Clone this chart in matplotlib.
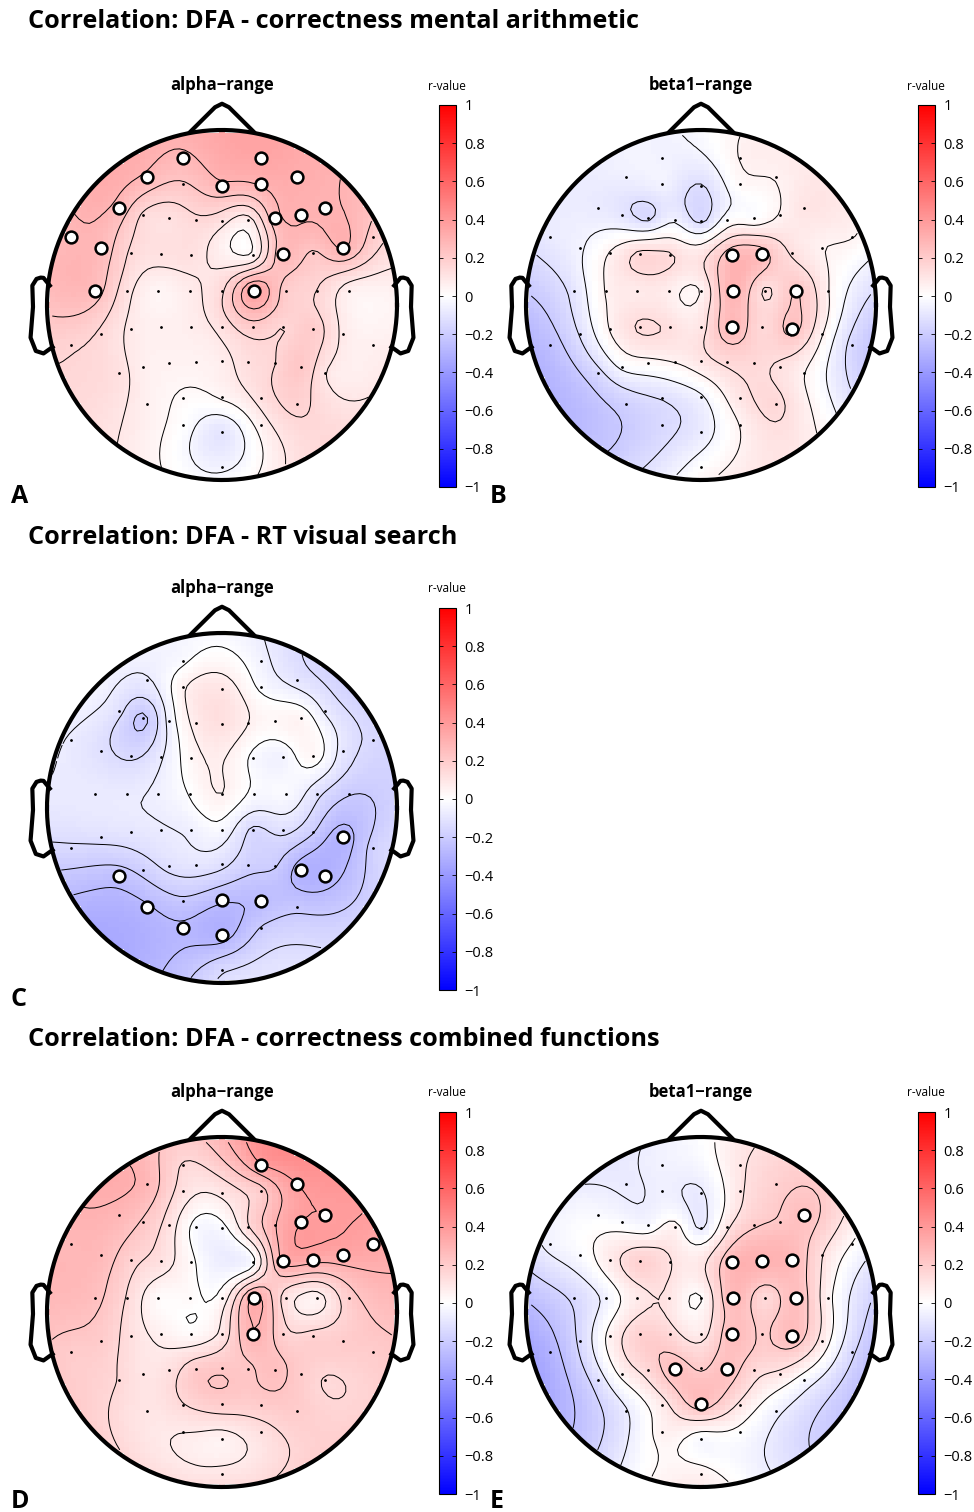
import numpy as np
import matplotlib.pyplot as plt
from matplotlib.patches import Circle
from matplotlib.colors import Normalize
from matplotlib.cm import ScalarMappable

plt.rcParams['font.family'] = ['Open Sans', 'DejaVu Sans']

# channel layout (head radius = 1)
channels = ['Fp1', 'Fp2', 'AF7', 'AF3', 'AFz', 'AF4', 'AF8',
            'F7', 'F5', 'F3', 'F1', 'Fz', 'F2', 'F4', 'F6', 'F8',
            'FT9', 'FT7', 'FC5', 'FC3', 'FC1', 'FC2', 'FC4', 'FC6', 'FT8', 'FT10',
            'T7', 'C5', 'C3', 'C1', 'Cz', 'C2', 'C4', 'C6', 'T8',
            'TP9', 'TP7', 'CP5', 'CP3', 'CP1', 'CPz', 'CP2', 'CP4', 'CP6', 'TP8', 'TP10',
            'P7', 'P5', 'P3', 'P1', 'Pz', 'P2', 'P4', 'P6', 'P8',
            'PO7', 'PO3', 'POz', 'PO4', 'PO8',
            'O1', 'Oz', 'O2', 'Iz']
chan_x = [-0.225, 0.225, -0.427, -0.221, 0.0, 0.221, 0.427,
          -0.587, -0.449, -0.303, -0.151, 0.0, 0.151, 0.303, 0.449, 0.587,
          -0.863, -0.693, -0.520, -0.348, -0.175, 0.175, 0.348, 0.520, 0.693, 0.863,
          -0.727, -0.545, -0.363, -0.181, 0.0, 0.181, 0.363, 0.545, 0.727,
          -0.863, -0.693, -0.520, -0.348, -0.175, 0.0, 0.175, 0.348, 0.520, 0.693, 0.863,
          -0.587, -0.449, -0.303, -0.151, 0.0, 0.151, 0.303, 0.449, 0.587,
          -0.427, -0.221, 0.0, 0.221, 0.427,
          -0.225, 0.0, 0.225, 0.0]
chan_y = [0.842, 0.842, 0.730, 0.691, 0.682, 0.691, 0.730,
          0.552, 0.514, 0.495, 0.486, 0.480, 0.486, 0.495, 0.514, 0.552,
          0.390, 0.328, 0.299, 0.290, 0.284, 0.284, 0.290, 0.299, 0.328, 0.390,
          0.082, 0.082, 0.082, 0.082, 0.082, 0.082, 0.082, 0.082, 0.082,
          -0.230, -0.168, -0.139, -0.128, -0.124, -0.124, -0.124, -0.128, -0.139, -0.168, -0.230,
          -0.390, -0.352, -0.333, -0.324, -0.322, -0.324, -0.333, -0.352, -0.390,
          -0.568, -0.533, -0.524, -0.533, -0.568,
          -0.686, -0.724, -0.686, -0.924]

# r-values per channel (same order as channels)
r_alpha_arith = [0.28, 0.35, 0.28, 0.22, 0.28, 0.30, 0.32,
                 0.27, 0.15, 0.12, 0.15, 0.12, 0.07, 0.27, 0.30, 0.30,
                 0.28, 0.27, 0.15, 0.12, 0.12, 0.04, 0.27, 0.22, 0.30, 0.20,
                 0.26, 0.12, 0.04, 0.08, 0.15, 0.36, 0.20, 0.16, 0.06,
                 0.17, 0.15, 0.08, 0.06, 0.07, 0.12, 0.20, 0.16, 0.20, 0.08, 0.06,
                 0.12, 0.06, 0.05, 0.05, 0.07, 0.13, 0.16, 0.22, 0.10,
                 0.06, 0.02, 0.04, 0.12, 0.18,
                 0.00, -0.10, 0.06, -0.05]
r_beta1_arith = [-0.05, 0.05, -0.06, -0.05, -0.13, 0.02, 0.05,
                 -0.08, -0.10, -0.14, -0.05, -0.14, 0.00, 0.00, 0.05, 0.10,
                 -0.08, -0.05, 0.05, 0.15, 0.14, 0.27, 0.25, 0.12, 0.05, 0.05,
                 -0.10, 0.05, 0.08, 0.07, 0.05, 0.30, 0.12, 0.22, 0.05,
                 -0.25, -0.12, 0.05, 0.14, 0.12, 0.10, 0.28, 0.15, 0.24, 0.05, -0.15,
                 -0.15, -0.02, 0.02, 0.05, 0.10, 0.15, 0.15, 0.12, 0.05,
                 -0.18, -0.12, -0.05, 0.10, 0.15,
                 -0.15, -0.08, 0.05, 0.00]
r_alpha_rt = [-0.02, -0.05, -0.08, 0.05, 0.10, -0.02, -0.10,
              -0.12, -0.22, -0.05, 0.08, 0.12, 0.06, 0.03, 0.04, -0.08,
              -0.08, -0.12, -0.15, -0.08, 0.03, -0.02, -0.05, 0.03, -0.10, -0.15,
              -0.08, -0.08, -0.06, 0.00, 0.06, -0.02, -0.02, -0.12, -0.20,
              -0.15, -0.12, -0.10, -0.08, -0.06, -0.03, -0.15, -0.12, -0.20, -0.30, -0.18,
              -0.24, -0.18, -0.12, -0.10, -0.12, -0.18, -0.20, -0.30, -0.30,
              -0.28, -0.22, -0.26, -0.26, -0.22,
              -0.28, -0.30, -0.20, -0.15]
r_alpha_comb = [0.15, 0.38, 0.28, 0.12, 0.10, 0.20, 0.38,
                0.28, 0.22, 0.12, -0.02, -0.02, 0.15, 0.30, 0.38, 0.38,
                0.28, 0.27, 0.18, 0.12, 0.02, -0.02, 0.32, 0.33, 0.35, 0.35,
                0.25, 0.15, 0.02, 0.02, 0.03, 0.32, 0.12, 0.05, 0.20,
                0.20, 0.20, 0.12, 0.06, 0.02, 0.10, 0.30, 0.18, 0.18, 0.20, 0.20,
                0.15, 0.10, 0.12, 0.20, 0.22, 0.22, 0.25, 0.20, 0.15,
                0.10, 0.15, 0.20, 0.20, 0.20,
                0.08, 0.05, 0.12, 0.10]
r_beta1_comb = [-0.05, 0.10, -0.08, -0.06, -0.08, 0.10, 0.18,
                -0.02, -0.02, -0.03, 0.05, -0.08, 0.10, 0.20, 0.22, 0.25,
                -0.05, -0.02, 0.08, 0.18, 0.12, 0.28, 0.30, 0.28, 0.12, 0.02,
                -0.15, -0.05, 0.08, 0.10, 0.02, 0.28, 0.15, 0.26, 0.05,
                -0.30, -0.15, 0.05, 0.18, 0.15, 0.08, 0.26, 0.20, 0.26, 0.08, -0.15,
                -0.12, 0.05, 0.15, 0.25, 0.20, 0.25, 0.15, 0.10, -0.02,
                -0.08, 0.08, 0.25, 0.10, -0.05,
                0.05, -0.02, 0.00, 0.05]

# significant channels
sig_alpha_arith = ['Fp1', 'Fp2', 'AF7', 'AFz', 'AF4', 'AF8', 'F7', 'F4', 'F6', 'F8',
                   'FT9', 'FT7', 'FC4', 'FT8', 'T7', 'C2']
sig_beta1_arith = ['FC2', 'FC4', 'C2', 'C6', 'CP2', 'CP6']
sig_alpha_rt = ['P7', 'PO7', 'O1', 'POz', 'Oz', 'PO4', 'P6', 'P8', 'TP8']
sig_alpha_comb = ['Fp2', 'AF8', 'F6', 'F8', 'FC4', 'FC6', 'FT8', 'FT10', 'C2', 'CP2']
sig_beta1_comb = ['F8', 'FC2', 'FC4', 'FC6', 'C2', 'C6', 'CP2', 'CP6', 'P1', 'P2', 'POz']

W, H = 974, 1512
fig = plt.figure(figsize=(W / 100, H / 100), dpi=100)

ear_x = np.array([0.984, 1.02, 1.036, 1.0598, 1.0838, 1.08, 1.094, 1.064, 1.02, 0.968])
ear_y = np.array([0.111, 0.155, 0.1566, 0.1492, 0.111, -0.011, -0.1864, -0.2626, -0.2768, -0.2398])
nose_x = np.array([0.18, 0.04, 0, -0.04, -0.18])
nose_y = np.array([0.9908, 1.13, 1.15, 1.13, 0.9908])


def v4_grid(xe, ye, ve, xg, yg):
    # biharmonic spline interpolation (as griddata 'v4')
    d = np.hypot(xe[:, None] - xe[None, :], ye[:, None] - ye[None, :])
    with np.errstate(divide='ignore', invalid='ignore'):
        g = np.where(d > 0, d ** 2 * (np.log(d) - 1), 0.0)
    w = np.linalg.solve(g, ve)
    dg = np.hypot(xg.ravel()[:, None] - xe[None, :], yg.ravel()[:, None] - ye[None, :])
    with np.errstate(divide='ignore', invalid='ignore'):
        gg = np.where(dg > 0, dg ** 2 * (np.log(dg) - 1), 0.0)
    return (gg @ w).reshape(xg.shape)


def fig_text(x, y, s, **kw):
    fig.text(x / W, 1 - y / H, s, **kw)


def topo(cx, cy, values, sig, band, letter):
    R = 175
    ax = fig.add_axes([(cx - 1.2 * R) / W, 1 - (cy + 1.2 * R) / H, 2.4 * R / W, 2.4 * R / H])
    ax.set_xlim(-1.2, 1.2)
    ax.set_ylim(-1.2, 1.2)
    ax.axis('off')

    xe = np.array(chan_x)
    ye = np.array(chan_y)
    ve = np.array(values)
    gi = np.linspace(-1, 1, 67)
    xg, yg = np.meshgrid(gi, gi)
    zg = v4_grid(xe, ye, ve, xg, yg)
    zg[np.hypot(xg, yg) > 1.0] = np.nan

    clip = Circle((0, 0), 1.0, transform=ax.transData)
    mesh = ax.pcolormesh(xg, yg, zg, cmap='bwr', vmin=-1, vmax=1, shading='nearest')
    mesh.set_clip_path(clip)
    levels = np.linspace(np.nanmin(zg), np.nanmax(zg), 8)[1:-1]
    cs = ax.contour(xg, yg, zg, levels=levels, colors='k', linewidths=0.7,
                    linestyles='solid')
    cs.set_clip_path(clip)

    ax.plot(xe, ye, '.', color='k', ms=2)
    idx = [channels.index(c) for c in sig]
    ax.plot(xe[idx], ye[idx], 'o', mfc='white', mec='k', ms=8.5, mew=1.8)

    th = np.linspace(0, 2 * np.pi, 300)
    ax.plot(np.cos(th), np.sin(th), color='k', lw=3)
    ax.plot(ear_x, ear_y, color='k', lw=3)
    ax.plot(-ear_x, ear_y, color='k', lw=3)
    ax.plot(nose_x, nose_y, color='k', lw=3)

    fig_text(cx, cy - 220, band, ha='center', va='center', fontsize=12, fontweight='bold')

    cax = fig.add_axes([(cx + 217) / W, 1 - (cy + 182) / H, 17 / W, 382 / H])
    cb = fig.colorbar(ScalarMappable(Normalize(-1, 1), 'bwr'), cax=cax)
    cb.set_ticks(np.linspace(-1, 1, 11))
    cb.set_ticklabels(['\u22121', '\u22120.8', '\u22120.6', '\u22120.4', '\u22120.2', '0',
                       '0.2', '0.4', '0.6', '0.8', '1'])
    cax.tick_params(direction='in', length=3, width=0.6, left=True, right=True,
                    labelsize=10.5, pad=6)
    cb.outline.set_linewidth(0.8)
    fig_text(cx + 225, cy - 219, 'r-value', ha='center', va='center', fontsize=8.5)

    fig_text(cx - 211, min(cy + 198, H - 4), letter, ha='left', va='baseline',
             fontsize=18, fontweight='bold')


fig_text(28, 22, 'Correlation: DFA - correctness mental arithmetic', ha='left', va='center',
         fontsize=18.2, fontweight='bold')
fig_text(28, 538, 'Correlation: DFA - RT visual search', ha='left', va='center',
         fontsize=18.2, fontweight='bold')
fig_text(28, 1040, 'Correlation: DFA - correctness combined functions', ha='left', va='center',
         fontsize=18.2, fontweight='bold')

topo(222, 305, r_alpha_arith, sig_alpha_arith, 'alpha\u2212range', 'A')
topo(701, 305, r_beta1_arith, sig_beta1_arith, 'beta1\u2212range', 'B')
topo(222, 808, r_alpha_rt, sig_alpha_rt, 'alpha\u2212range', 'C')
topo(222, 1312, r_alpha_comb, sig_alpha_comb, 'alpha\u2212range', 'D')
topo(701, 1312, r_beta1_comb, sig_beta1_comb, 'beta1\u2212range', 'E')

fig.savefig('out.png', dpi=100)
